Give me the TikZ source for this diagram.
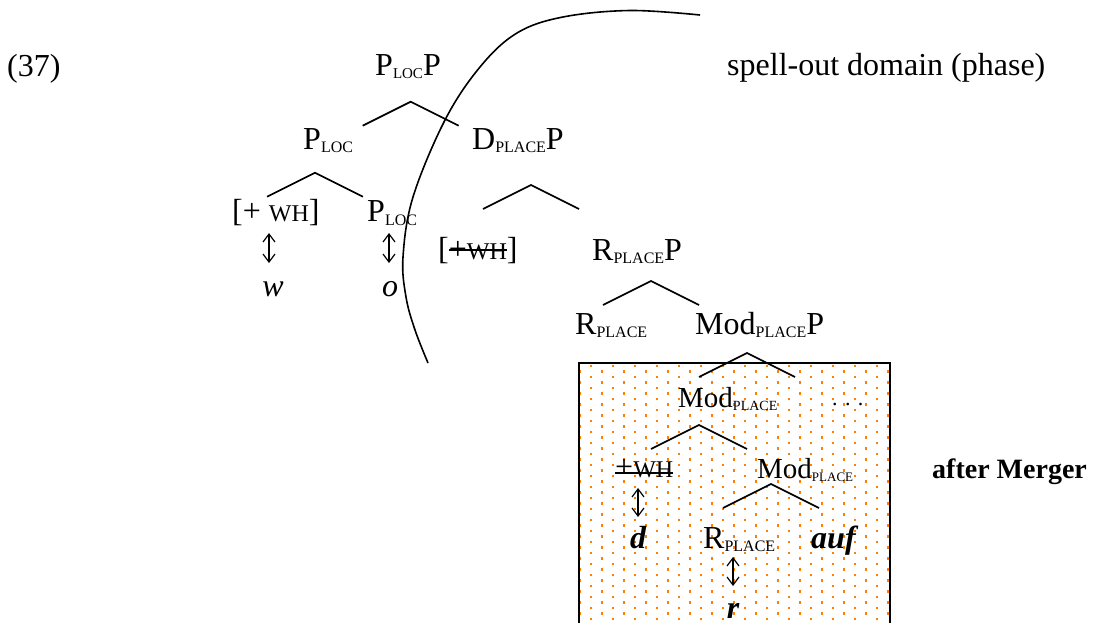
\documentclass[tikz,border=0pt]{standalone}
\usepackage{fontspec}
\setmainfont{Liberation Serif}
\usetikzlibrary{arrows.meta}
\definecolor{dotc}{RGB}{255,128,0}
\newcommand\lsub[2][16]{\raisebox{-3.5pt}{\fontsize{#1}{#1}\selectfont #2}}
\newcommand\wh{{\fontsize{24}{24}\selectfont WH}}
\newcommand\strk[2]{\setbox0\hbox{#2}\rlap{\rule[#1]{\wd0}{1.6pt}}\box0}
\tikzset{
  branch/.style={line width=1.7pt},
  lab/.style={inner sep=0pt, anchor=base west, font=\fontsize{32}{38}\selectfont},
  labc/.style={inner sep=0pt, anchor=base, font=\fontsize{32}{38}\selectfont},
  dbl/.style={{Straight Barb[length=8pt,width=12pt]}-{Straight Barb[length=8pt,width=12pt]}, line width=1.2pt},
}
\begin{document}
\begin{tikzpicture}[x=1pt,y=-1pt]
\useasboundingbox (0,0) rectangle (1094,622);
\clip (0,0) rectangle (1094,622);
% dotted box
\begin{scope}
\clip (579,363) rectangle (890,622);
\foreach \i in {0,...,28}{
  \pgfmathsetmacro\xx{580+11*\i}
  \pgfmathsetmacro\yy{360.3+5.7*mod(\i,2)}
  \foreach \j in {0,...,24}{
    \fill[dotc] (\xx-1.35,\yy+11*\j-1.35) rectangle ++(2.7,2.7);
  }
}
\end{scope}
\draw[line width=1.9pt] (579,640) -- (579,363) -- (890,363) -- (890,640);
% phase curve
\draw[line width=1.6pt] plot[smooth, tension=0.6] coordinates {(700,15) (630,10.5) (563,17) (517,33) (480,67) (445,120) (413,197) (403,257) (406,297) (415,330) (428,363)};
% texts
\node[lab] (ex) at (7,76) {(37)};
\node[lab] (spell) at (727,75) {spell-out domain (phase)};
\node[lab, font=\fontsize{28}{32}\selectfont\bfseries] (after) at (932,478) {after Merger};
\node[lab] (plocp) at (375,75) {P\lsub[15]{LOC}P};
\node[lab] (ploc1) at (303,149) {P\lsub{LOC}};
\node[lab] (dplacep) at (472,149) {D\lsub{PLACE}P};
\node[lab] (wh1) at (232,221.7) {[+ \wh]};
\node[lab] (ploc2) at (367,221.7) {P\lsub{LOC}};
\node[lab] (wh2) at (438,259.5) {[\strk{8.5pt}{+\wh}]};
\node[lab] (rplacep) at (592,260) {R\lsub{PLACE}P};
\node[lab] (rplace1) at (575,334) {R\lsub{PLACE}};
\node[lab] (modplacep) at (695,334) {Mod\lsub{PLACE}P};
\node[lab, font=\fontsize{29}{34}\selectfont] (mod1) at (678,407) {Mod\lsub[14]{PLACE}};
\node[lab, font=\fontsize{22}{22}\selectfont] (dots) at (832,405) {. . .};
\node[lab] (wh3) at (615,477) {\strk{3.5pt}{+\wh}};
\node[lab, font=\fontsize{29}{34}\selectfont] (mod2) at (757,478) {Mod\lsub[13]{PLACE}};
\node[labc, font=\fontsize{32}{38}\selectfont\bfseries\itshape] (d) at (638,548) {d};
\node[lab] (rplace2) at (703,548) {R\lsub{PLACE}};
\node[lab, font=\fontsize{32}{38}\selectfont\bfseries\itshape] (auf) at (811,548) {auf};
\node[labc, font=\fontsize{32}{38}\selectfont\bfseries\itshape] (r) at (733,618) {r};
\node[labc, font=\fontsize{32}{38}\selectfont\itshape] (w) at (273,296) {w};
\node[labc, font=\fontsize{32}{38}\selectfont\itshape] (o) at (390,296) {o};
% branches
\coordinate (ap1) at (410.7,101.7);
\coordinate (ap2) at (315,172.7);
\coordinate (ap3) at (531,185);
\coordinate (ap4) at (651,281);
\coordinate (ap5) at (747,353);
\coordinate (ap6) at (699,425);
\coordinate (ap7) at (771,484);
\foreach \a in {ap1,ap2,ap3,ap4,ap5,ap6,ap7}{
  \draw[branch] (\a) ++(-48,24) -- (\a) -- ++(48,24);
}
% double arrows
\coordinate (u1) at (269,233); \coordinate (v1) at (269,263);
\coordinate (u2) at (389,233); \coordinate (v2) at (389,263);
\coordinate (u3) at (638,488); \coordinate (v3) at (638,517);
\coordinate (u4) at (733,557); \coordinate (v4) at (733,586);
\draw[dbl] (u1) -- (v1);
\draw[dbl] (u2) -- (v2);
\draw[dbl] (u3) -- (v3);
\draw[dbl] (u4) -- (v4);
\end{tikzpicture}
\end{document}
